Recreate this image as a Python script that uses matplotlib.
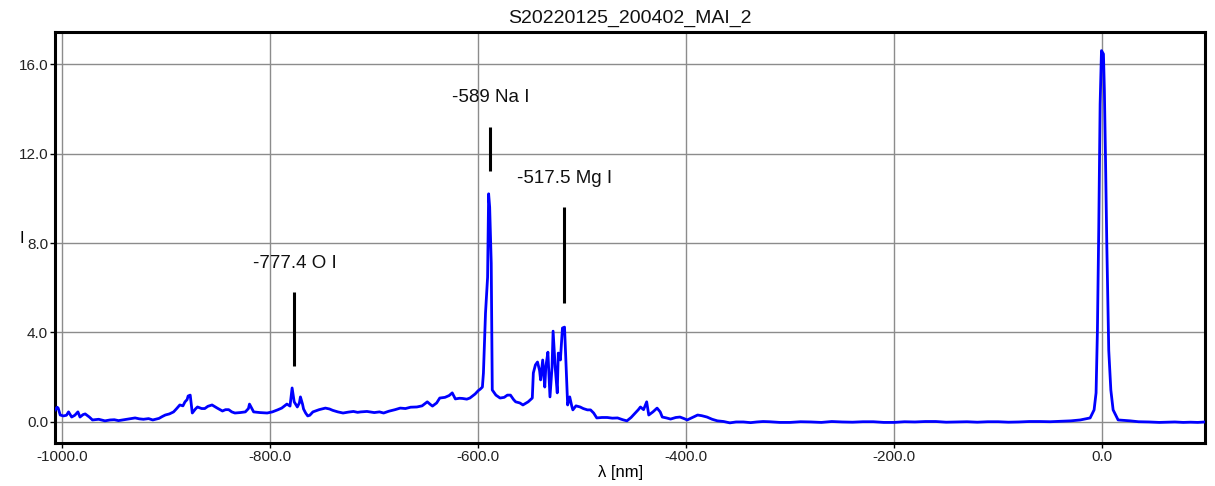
import matplotlib
matplotlib.use("Agg")
import matplotlib.pyplot as plt

plt.rcParams['font.family'] = ['Liberation Sans', 'DejaVu Sans']

# spectrum: wavelength shift [nm] and intensity
wavelength = [
    -1007, -1005, -1004, -1002, -999, -996, -994, -991, -988, -985,
    -983, -980, -978, -974, -971, -965, -959, -954, -950, -946,
    -942, -936, -930, -926, -922, -917, -913, -907, -904, -901,
    -897, -893, -890, -887, -884, -882, -880, -879, -877, -875,
    -872, -870, -866, -863, -860, -856, -851, -846, -843, -840,
    -837, -834, -829, -824, -821, -820, -818, -816, -810, -803,
    -798, -793, -789, -784, -781, -779, -778, -777, -774, -772,
    -771, -769, -768, -766, -764, -762, -759, -753, -747, -743,
    -740, -735, -730, -725, -720, -716, -713, -707, -700, -695,
    -691, -686, -680, -675, -670, -665, -659, -654, -649, -646,
    -644, -640, -637, -632, -628, -625, -622, -618, -615, -611,
    -608, -603, -600, -598, -596, -595, -593, -591, -590, -589,
    -587.5, -586.5, -583, -579, -575, -572, -569, -566, -564, -560,
    -557, -552, -548, -547, -545, -543, -541, -540, -538, -536,
    -535, -533, -531, -529, -528, -526, -524, -523, -521, -519,
    -517, -515, -514, -512, -510, -509, -506, -502, -499, -495,
    -492, -489, -486, -481, -476, -471, -466, -461, -457, -453,
    -449, -446, -444, -441, -438, -436, -432, -428, -425, -423,
    -419, -415, -410, -406, -402, -399, -394, -389, -385, -380,
    -375, -370, -364, -358, -352, -345, -338, -332, -326, -320,
    -310, -300, -290, -280, -270, -260, -250, -240, -230, -220,
    -210, -200, -190, -180, -170, -160, -150, -140, -130, -120,
    -110, -100, -90, -80, -70, -60, -50, -40, -30, -21,
    -11.5, -7.7, -5.8, -4.5, -3.2, -1.9, -0.6, 1.3, 2.2, 3.2,
    4.5, 6.4, 8.4, 10.6, 15.4, 27, 35, 45, 55, 62,
    70, 78, 85, 92, 99,
]
intensity = [
    0.54, 0.66, 0.62, 0.31, 0.27, 0.30, 0.45, 0.22, 0.30, 0.45,
    0.22, 0.33, 0.36, 0.22, 0.09, 0.12, 0.05, 0.09, 0.10, 0.06,
    0.09, 0.14, 0.18, 0.14, 0.12, 0.15, 0.09, 0.16, 0.24, 0.31,
    0.36, 0.45, 0.60, 0.76, 0.72, 0.90, 1.00, 1.16, 1.20, 0.40,
    0.58, 0.67, 0.60, 0.60, 0.70, 0.76, 0.62, 0.49, 0.55, 0.55,
    0.45, 0.40, 0.42, 0.45, 0.60, 0.80, 0.62, 0.45, 0.42, 0.40,
    0.45, 0.54, 0.62, 0.80, 0.71, 1.52, 1.20, 0.90, 0.67, 0.85,
    1.12, 0.80, 0.58, 0.40, 0.27, 0.30, 0.45, 0.55, 0.62, 0.58,
    0.52, 0.45, 0.40, 0.44, 0.47, 0.43, 0.45, 0.47, 0.42, 0.45,
    0.40, 0.48, 0.55, 0.62, 0.60, 0.66, 0.67, 0.72, 0.90, 0.78,
    0.71, 0.85, 1.07, 1.10, 1.18, 1.30, 1.03, 1.06, 1.05, 1.02,
    1.07, 1.25, 1.40, 1.47, 1.56, 2.19, 4.87, 6.47, 10.2, 9.6,
    7.1, 1.43, 1.20, 1.07, 1.10, 1.20, 1.20, 1.00, 0.90, 0.85,
    0.76, 0.90, 1.07, 2.19, 2.55, 2.68, 2.30, 1.88, 2.77, 1.56,
    2.46, 3.12, 1.12, 2.46, 4.06, 2.46, 1.30, 3.08, 2.77, 4.20,
    4.24, 1.88, 0.76, 1.12, 0.70, 0.54, 0.72, 0.67, 0.60, 0.54,
    0.54, 0.40, 0.18, 0.20, 0.20, 0.17, 0.18, 0.10, 0.05, 0.20,
    0.40, 0.55, 0.67, 0.55, 0.90, 0.31, 0.45, 0.62, 0.45, 0.22,
    0.18, 0.13, 0.20, 0.22, 0.15, 0.09, 0.20, 0.31, 0.28, 0.22,
    0.12, 0.05, 0.02, -0.04, 0.00, 0.00, -0.03, 0.00, 0.02, 0.01,
    -0.02, -0.02, 0.01, 0.00, -0.02, 0.02, 0.00, -0.01, 0.01, 0.01,
    -0.02, -0.02, 0.01, 0.00, 0.02, 0.02, -0.01, 0.00, 0.01, -0.01,
    0.01, 0.01, -0.01, 0.00, 0.02, 0.02, 0.01, 0.03, 0.05, 0.09,
    0.18, 0.54, 1.30, 4.10, 8.70, 14.2, 16.6, 16.45, 14.8, 12.0,
    8.0, 3.20, 1.43, 0.54, 0.09, 0.05, 0.01, 0.00, -0.02, -0.01,
    0.00, -0.02, -0.01, -0.02, 0.00,
]

# identified lines
line_labels = ['-777.4 O I', '-589 Na I', '-517.5 Mg I']
line_pos = [-777.4, -589, -517.5]
marker_lo = [2.5, 11.2, 5.3]
marker_hi = [5.8, 13.2, 9.6]
label_x = [-817, -625, -562.5]
label_y = [7.1, 14.5, 10.9]

x_ticks = [-1000, -800, -600, -400, -200, 0]
y_ticks = [0, 4, 8, 12, 16]

fig = plt.figure(figsize=(12.15, 4.86), dpi=100)
ax = fig.add_axes([0.0453, 0.0885, 0.9465, 0.8455])

ax.plot(wavelength, intensity, color='#0000ff', lw=2.0, zorder=3)

ax.vlines(line_pos, marker_lo, marker_hi, color='black', lw=2.2, zorder=4)
for txt, tx, ty in zip(line_labels, label_x, label_y):
    ax.text(tx, ty, txt, fontsize=13.5, ha='left', va='center', color='#111111')

ax.set_xlim(-1007, 99)
ax.set_ylim(-0.94, 17.43)
ax.set_xticks(x_ticks)
ax.set_yticks(y_ticks)
ax.set_xticklabels([f'{v:.1f}' for v in x_ticks])
ax.set_yticklabels([f'{v:.1f}' for v in y_ticks])
ax.tick_params(direction='out', length=3.5, width=1, pad=1.5,
               labelsize=11, labelcolor='#222222')
ax.grid(True, color='#8c8c8c', lw=1)
ax.set_axisbelow(True)
for sp in ax.spines.values():
    sp.set_linewidth(2.2)
    sp.set_color('black')

ax.set_title('S20220125_200402_MAI_2', fontsize=14, pad=7, color='#111111')
fig.text(22 / 1215, 1 - 238 / 486, 'I', fontsize=12, ha='center', va='center')
fig.text(621 / 1215, 1 - 472 / 486, 'λ [nm]', fontsize=12, ha='center', va='center')

fig.savefig('out.png', dpi=100)
